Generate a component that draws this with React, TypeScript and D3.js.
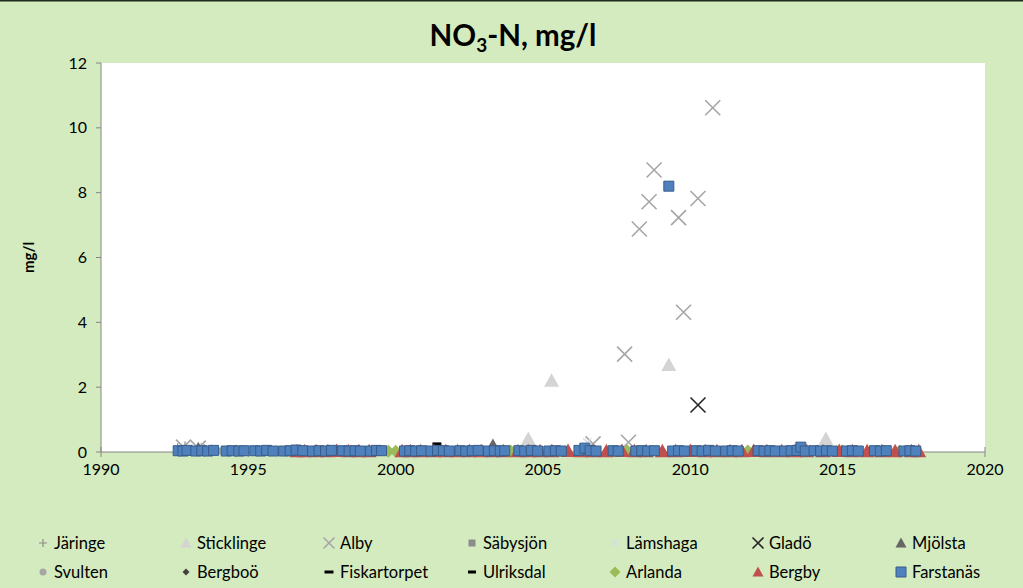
import React, { useEffect } from 'react'
import * as d3 from 'd3'

type Pt = [number, number] // [decimal year, mg/l]

// ---- data ----
const jaringe: Pt[] = [[1992.6, 0.15], [1992.85, 0.2], [1993.5, 0.12], [1993.75, 0.1], [1996.3, 0.05]]
const sticklinge: Pt[] = [[1993.4, 0.08], [2004.5, 0.4], [2005.29, 2.2], [2009.27, 2.68], [2014.6, 0.4]]
const alby: Pt[] = [
  [1992.8, 0.15], [1993.3, 0.12], [2006.7, 0.25], [2007.77, 3.02], [2007.9, 0.3], [2008.27, 6.88],
  [2008.6, 7.72], [2008.77, 8.7], [2009.6, 7.23], [2009.77, 4.31], [2010.26, 7.82], [2010.76, 10.62],
]
const sabysjon: Pt[] = [[1993.1, 0.05], [1997.5, 0.04], [2002.3, 0.03]]
const lamshaga: Pt[] = [[1993.2, 0.1], [2006.5, 0.3], [2012.4, 0.05]]
const glado: Pt[] = [[2010.26, 1.45]]
const mjolsta: Pt[] = [[1993.3, 0.15], [2003.3, 0.25]]
const svulten: Pt[] = [[1994.05, 0.03], [1996.05, 0.04], [2001.05, 0.03], [2008.95, 0.03], [2014.05, 0.03]]
const bergboo: Pt[] = [[1999.05, 0.04], [2001.5, 0.06], [2005.7, 0.05]]
const fiskartorpet: Pt[] = [[2001.4, 0.25]]
const ulriksdal: Pt[] = [[1998.9, 0.05], [2006.3, 0.05]]
const arlanda: Pt[] = [
  [1994.6, 0.03], [1999.75, 0.02], [2000.0, 0.02], [2003.9, 0.03], [2007.85, 0.04],
  [2011.95, 0.03], [2015.15, 0.04], [2017.1, 0.02],
]
const bergby: Pt[] = [
  [1996.65, 0.02], [1996.9, 0.02], [1997.3, 0.02], [1997.7, 0.02], [1998.0, 0.03], [1998.4, 0.02],
  [1998.75, 0.02], [1999.1, 0.02], [2000.22, 0.02], [2000.5, 0.02], [2000.85, 0.02],
  [2001.3, 0.02], [2001.7, 0.02], [2002.1, 0.02], [2002.5, 0.02], [2002.9, 0.02], [2003.3, 0.02],
  [2003.65, 0.02], [2004.15, 0.02], [2004.5, 0.02], [2004.9, 0.02], [2005.3, 0.02], [2005.85, 0.03],
  [2006.3, 0.02], [2006.7, 0.02], [2007.15, 0.02], [2007.68, 0.03], [2008.1, 0.02], [2008.5, 0.02],
  [2009.05, 0.02], [2009.5, 0.02], [2010.0, 0.03], [2010.5, 0.02], [2010.9, 0.02], [2011.35, 0.02],
  [2011.75, 0.02], [2012.15, 0.03], [2012.6, 0.02], [2013.1, 0.02], [2013.55, 0.02], [2013.95, 0.02],
  [2014.5, 0.02], [2015.05, 0.03], [2015.5, 0.02], [2016.0, 0.02], [2016.5, 0.02], [2016.95, 0.02],
  [2017.5, 0.02], [2017.75, 0.02],
]
const farstanas: Pt[] = [
  [1992.62, 0.04], [1992.78, 0.03], [1992.92, 0.05],
  [1993.22, 0.03], [1993.42, 0.04], [1993.62, 0.03], [1993.82, 0.05],
  [1994.25, 0.03], [1994.45, 0.04], [1994.68, 0.03], [1994.85, 0.04],
  [1995.22, 0.04], [1995.42, 0.03], [1995.62, 0.05], [1995.84, 0.03],
  [1996.2, 0.03], [1996.42, 0.04], [1996.62, 0.06], [1996.85, 0.04],
  [1997.18, 0.03], [1997.4, 0.04], [1997.62, 0.03], [1997.82, 0.05],
  [1998.2, 0.04], [1998.42, 0.03], [1998.62, 0.04], [1998.8, 0.03],
  [1999.15, 0.03], [1999.35, 0.05], [1999.52, 0.04],
  [2000.3, 0.03], [2000.48, 0.04], [2000.68, 0.03], [2000.88, 0.04],
  [2001.2, 0.03], [2001.42, 0.05], [2001.62, 0.04], [2001.82, 0.03],
  [2002.18, 0.04], [2002.38, 0.03], [2002.6, 0.04], [2002.8, 0.05],
  [2003.15, 0.03], [2003.35, 0.04], [2003.55, 0.03], [2003.7, 0.04],
  [2004.18, 0.04], [2004.38, 0.03], [2004.6, 0.05], [2004.82, 0.03],
  [2005.2, 0.03], [2005.42, 0.04], [2005.62, 0.03],
  [2006.22, 0.05], [2006.42, 0.12], [2006.6, 0.04], [2006.8, 0.03],
  [2007.38, 0.04], [2007.55, 0.03],
  [2008.15, 0.03], [2008.35, 0.04], [2008.55, 0.03], [2008.78, 0.04],
  [2009.27, 8.2], [2009.4, 0.03], [2009.6, 0.04], [2009.8, 0.03],
  [2010.2, 0.04], [2010.4, 0.03], [2010.62, 0.05], [2010.85, 0.03],
  [2011.2, 0.03], [2011.42, 0.04], [2011.62, 0.03],
  [2012.3, 0.04], [2012.5, 0.03], [2012.7, 0.04], [2012.88, 0.03],
  [2013.2, 0.03], [2013.42, 0.04], [2013.62, 0.05], [2013.75, 0.15], [2013.9, 0.03],
  [2014.2, 0.04], [2014.42, 0.03], [2014.62, 0.04], [2014.82, 0.03],
  [2015.3, 0.03], [2015.5, 0.04], [2015.7, 0.03],
  [2016.25, 0.04], [2016.45, 0.03], [2016.65, 0.04],
  [2017.25, 0.03], [2017.45, 0.04], [2017.65, 0.03],
]

const xDomain: [number, number] = [1990, 2020]
const yDomain: [number, number] = [0, 12]

type Shape = 'plus' | 'triangle' | 'x' | 'square' | 'circle' | 'diamond' | 'dash'
interface Series { name: string; data: Pt[]; shape: Shape; size: number; fill: string; stroke?: string; sw?: number }

// drawing order = legend order (row by row)
const series: Series[] = [
  { name: 'Järinge', data: jaringe, shape: 'plus', size: 8, fill: 'none', stroke: '#8c8c8c', sw: 1.2 },
  { name: 'Sticklinge', data: sticklinge, shape: 'triangle', size: 15, fill: '#d4d4d4' },
  { name: 'Alby', data: alby, shape: 'x', size: 15, fill: 'none', stroke: '#a6a6a6', sw: 1.6 },
  { name: 'Säbysjön', data: sabysjon, shape: 'square', size: 7, fill: '#8c8c8c' },
  { name: 'Lämshaga', data: lamshaga, shape: 'x', size: 8, fill: 'none', stroke: '#d5dde6', sw: 1.5 },
  { name: 'Gladö', data: glado, shape: 'x', size: 15, fill: 'none', stroke: '#262626', sw: 1.6 },
  { name: 'Mjölsta', data: mjolsta, shape: 'triangle', size: 11, fill: '#666666' },
  { name: 'Svulten', data: svulten, shape: 'circle', size: 7, fill: '#a6a6a6' },
  { name: 'Bergboö', data: bergboo, shape: 'diamond', size: 7, fill: '#404040' },
  { name: 'Fiskartorpet', data: fiskartorpet, shape: 'dash', size: 9, fill: '#000000' },
  { name: 'Ulriksdal', data: ulriksdal, shape: 'dash', size: 8, fill: '#000000' },
  { name: 'Arlanda', data: arlanda, shape: 'diamond', size: 13, fill: '#9bbb59' },
  { name: 'Bergby', data: bergby, shape: 'triangle', size: 15, fill: '#c0504d' },
  { name: 'Farstanäs', data: farstanas, shape: 'square', size: 10, fill: '#4f81bd', stroke: '#385d8a', sw: 1 },
]

function markerPath(shape: Shape, s: number): string {
  const h = s / 2
  switch (shape) {
    case 'square': return `M${-h},${-h}h${s}v${s}h${-s}Z`
    case 'triangle': return `M0,${-h}L${h},${h * 0.8}L${-h},${h * 0.8}Z`
    case 'diamond': return `M0,${-h}L${h},0L0,${h}L${-h},0Z`
    case 'x': return `M${-h},${-h}L${h},${h}M${h},${-h}L${-h},${h}`
    case 'plus': return `M${-h},0H${h}M0,${-h}V${h}`
    case 'dash': return `M${-h},-1.5h${s}v3h${-s}Z`
    case 'circle': return d3.symbol(d3.symbolCircle, Math.PI * h * h)()!
  }
}

const W = 1023
const H = 588
const margin = { left: 101, right: 38, top: 63, bottom: 136 }
const FONT = 'Lato, Carlito, "Open Sans", sans-serif'

function Marker({ s, x, y }: { s: Series; x: number; y: number }) {
  return (
    <path
      transform={`translate(${x},${y})`}
      d={markerPath(s.shape, s.size)}
      fill={s.fill}
      stroke={s.stroke ?? 'none'}
      strokeWidth={s.sw ?? 0}
    />
  )
}

export default function App() {
  useEffect(() => {
    document.body.style.margin = '0'
  }, [])

  const x = d3.scaleLinear().domain(xDomain).range([margin.left, W - margin.right])
  const y = d3.scaleLinear().domain(yDomain).range([H - margin.bottom, margin.top])
  const x0 = margin.left
  const y0 = H - margin.bottom

  return (
    <svg width={W} height={H} style={{ display: 'block', fontFamily: FONT }}>
      <rect x={0} y={0} width={W} height={H} fill="#d3ebbe" />
      <line x1={0} x2={W} y1={0.75} y2={0.75} stroke="#1e2a1a" strokeWidth={1.5} />
      <rect x={x0} y={margin.top} width={W - margin.right - x0} height={y0 - margin.top} fill="#ffffff" />

      {/* title */}
      <text x={513} y={46} textAnchor="middle" fontSize={29.5} fontWeight={700} fill="#000">
        NO<tspan fontSize={19} dy={6}>3</tspan><tspan dy={-6}>-N, mg/l</tspan>
      </text>

      {/* y axis */}
      <line x1={x0} x2={x0} y1={margin.top} y2={y0} stroke="#868686" />
      {y.ticks(6).map(t => (
        <g key={t}>
          <line x1={x0 - 5} x2={x0} y1={y(t)} y2={y(t)} stroke="#868686" />
          <text x={x0 - 14} y={y(t)} dy="0.35em" textAnchor="end" fontSize={16} fill="#000">{t}</text>
        </g>
      ))}
      <text transform={`translate(34,${(margin.top + y0) / 2}) rotate(-90)`} textAnchor="middle" fontSize={15} fontWeight={700}>mg/l</text>

      {/* x axis */}
      <line x1={x0} x2={W - margin.right} y1={y0} y2={y0} stroke="#868686" />
      {x.ticks(6).map(t => (
        <g key={t}>
          <line x1={x(t)} x2={x(t)} y1={y0 - 5} y2={y0 + 5} stroke="#868686" />
          <text x={x(t)} y={y0 + 23} textAnchor="middle" fontSize={16} fill="#000">{t}</text>
        </g>
      ))}

      {/* points */}
      {series.map(s => (
        <g key={s.name}>
          {s.data.map((d, i) => <Marker key={i} s={s} x={x(d[0])} y={y(d[1])} />)}
        </g>
      ))}

      {/* legend */}
      {series.map((s, i) => {
        const col = i % 7
        const row = Math.floor(i / 7)
        const lx = 43 + col * 143
        const ly = 543 + row * 29
        const ls = { ...s, size: Math.min(s.size, 11) }
        return (
          <g key={s.name}>
            <Marker s={ls} x={lx} y={ly} />
            <text x={lx + 11} y={ly} dy="0.35em" fontSize={16.5} fill="#000">{s.name}</text>
          </g>
        )
      })}
    </svg>
  )
}
